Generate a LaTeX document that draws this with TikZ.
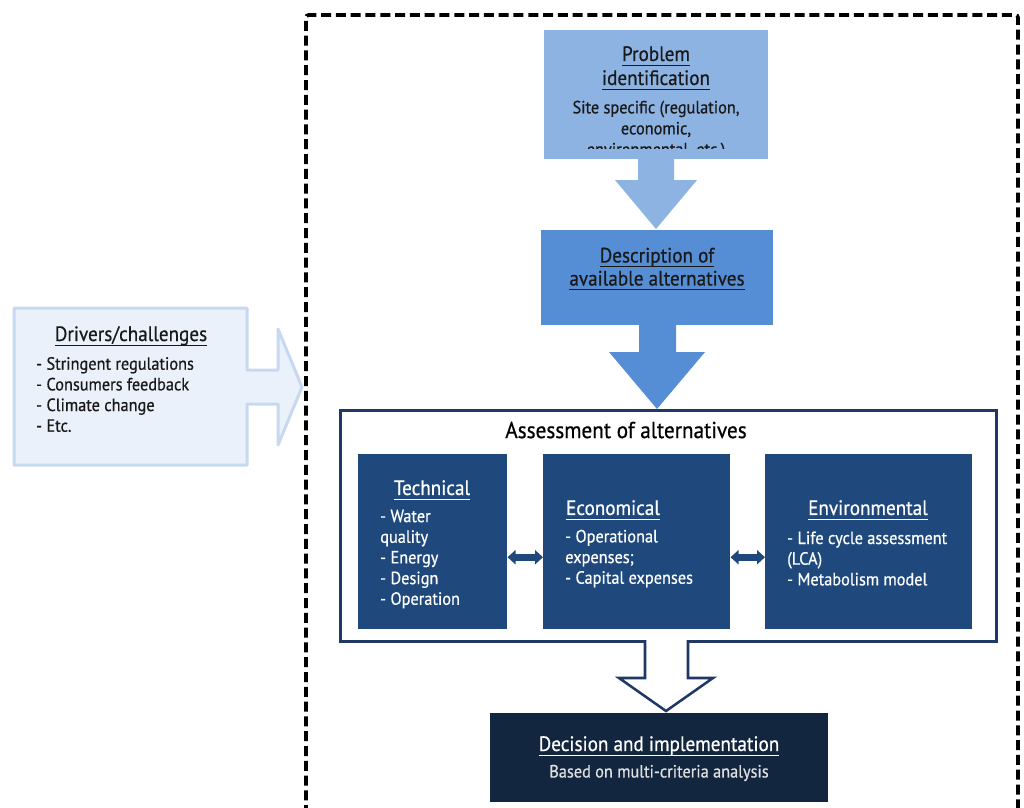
\documentclass[tikz,border=0pt]{standalone}
\usepackage{fontspec}
\setmainfont{PT Sans}[FakeStretch=0.92,FakeBold=0.6]
\usetikzlibrary{arrows.meta,calc}
\definecolor{cA}{HTML}{8DB3E2}
\definecolor{cB}{HTML}{558ED5}
\definecolor{cC}{HTML}{1F497D}
\definecolor{cBorder}{HTML}{1F3864}
\definecolor{cD}{HTML}{13263F}
\definecolor{cDrvFill}{HTML}{EBF1FA}
\definecolor{cDrvLine}{HTML}{C6D9F1}
\newcommand\ulin[1]{\setbox0\hbox{#1\vphantom{p}}\leavevmode\rlap{\rule[-3.6pt]{\wd0}{0.9pt}}\box0}
\tikzset{
  rectbox/.style={rectangle, draw=none, inner sep=0pt, anchor=north west},
  ttl/.style={font=\fontsize{15.6}{18}\selectfont, align=center, inner sep=0pt},
  body/.style={font=\fontsize{13.3}{15.5}\selectfont, inner sep=0pt},
  lst/.style={body, align=left, anchor=west},
  dbl/.style={cC, line width=5.25pt, {Triangle[width=10.5pt,length=6pt]}-{Triangle[width=10.5pt,length=6pt]}},
  frame/.style={line width=2.8pt, dash pattern=on 7.5pt off 3.6pt, rounded corners=2pt}
}
\begin{document}
\begin{tikzpicture}[x=0.75pt,y=-0.75pt]
\useasboundingbox (0,0) rectangle (1024,807);
% dashed frame
\draw[frame] (306,830) -- (306,15) -- (1018,15) -- (1018,830);

% problem identification
\node[rectbox, fill=cA, minimum width=168pt, minimum height=96.75pt] (p1) at (544,30) {};
\node[ttl, text=black!90] (p1t) at (656,68) {\ulin{Problem}\\\ulin{identification}};
\begin{scope}
\clip (544,30) rectangle (768,148);
\node[body, align=center, text=black!90, font=\fontsize{13.3}{15.75}\selectfont] (p1s) at (656,130) {Site specific (regulation,\\economic,\\environmental, etc.)};
\end{scope}
% arrow 1
\fill[cA] (638,159) -- (674,159) -- (674,180) -- (697,180) -- (656,229) -- (615,180) -- (638,180) -- cycle;

% description
\node[rectbox, fill=cB, minimum width=174pt, minimum height=71.25pt] (desc) at (541,230) {};
\node[ttl, text=black!90, font=\fontsize{15.6}{17.25}\selectfont] (desct) at (657,269) {\ulin{Description of}\\\ulin{available alternatives}};
% arrow 2
\fill[cB] (639,325) -- (676,325) -- (676,352) -- (705,352) -- (657,409) -- (609,352) -- (639,352) -- cycle;

% assessment
\node[rectbox, draw=cBorder, line width=1.9pt, fill=white, minimum width=492pt, minimum height=173.25pt] (assess) at (339,409) {};
\node[font=\fontsize{17.3}{19}\selectfont, inner sep=0pt] (assesst) at (626,430) {Assessment of alternatives};

\node[rectbox, fill=cC, minimum width=111.75pt, minimum height=131.25pt] (tech) at (358,454) {};
\node[rectbox, fill=cC, minimum width=140.25pt, minimum height=131.25pt] (econ) at (543,454) {};
\node[rectbox, fill=cC, minimum width=155.25pt, minimum height=131.25pt] (env) at (765,454) {};

\node[ttl, text=white] (techt) at (432,490) {\ulin{Technical}};
\node[lst, text=white] (techl) at (380,559) {- Water\\quality\\- Energy\\- Design\\- Operation};
\node[ttl, text=white] (econt) at (613,510) {\ulin{Economical}};
\node[lst, text=white] (econl) at (565,558.5) {- Operational\\expenses;\\- Capital expenses};
\node[ttl, text=white] (envt) at (868,510) {\ulin{Environmental}};
\node[lst, text=white] (envl) at (787,558.5) {- Life cycle assessment\\(LCA)\\- Metabolism model};

\draw[dbl] ([yshift=-11.6pt]tech.east) -- ([yshift=-11.6pt]econ.west);
\draw[dbl] ([yshift=-11.6pt]econ.east) -- ([yshift=-11.6pt]env.west);

% hollow arrow to decision
\fill[white] (645,636) -- (688,636) -- (688,678) -- (713,678) -- (666,711) -- (619,678) -- (645,678) -- cycle;
\draw[cBorder, line width=1.9pt, line join=miter] (645,640) -- (645,678) -- (619,678) -- (666,711) -- (713,678) -- (688,678) -- (688,640);

% decision
\node[rectbox, fill=cD, minimum width=253.5pt, minimum height=66.75pt] (dec) at (490,713) {};
\node[ttl, text=white] (dect) at (659,746) {\ulin{Decision and implementation}};
\node[body, text=white!88!black] (decs) at (659,773) {Based on multi-criteria analysis};

% drivers
\draw[draw=cDrvLine, fill=cDrvFill, line width=2.25pt, line join=round]
  (14,308) -- (247,308) -- (247,370) -- (278,370) -- (278,329) -- (302,387) -- (278,445) -- (278,404) -- (247,404) -- (247,465) -- (14,465) -- cycle;
\node[ttl, text=black!90] (drvt) at (131,336) {\ulin{Drivers/challenges}};
\node[lst, text=black!90] (drvl) at (36,394.5) {- Stringent regulations\\- Consumers feedback\\- Climate change\\- Etc.};
\end{tikzpicture}
\end{document}
